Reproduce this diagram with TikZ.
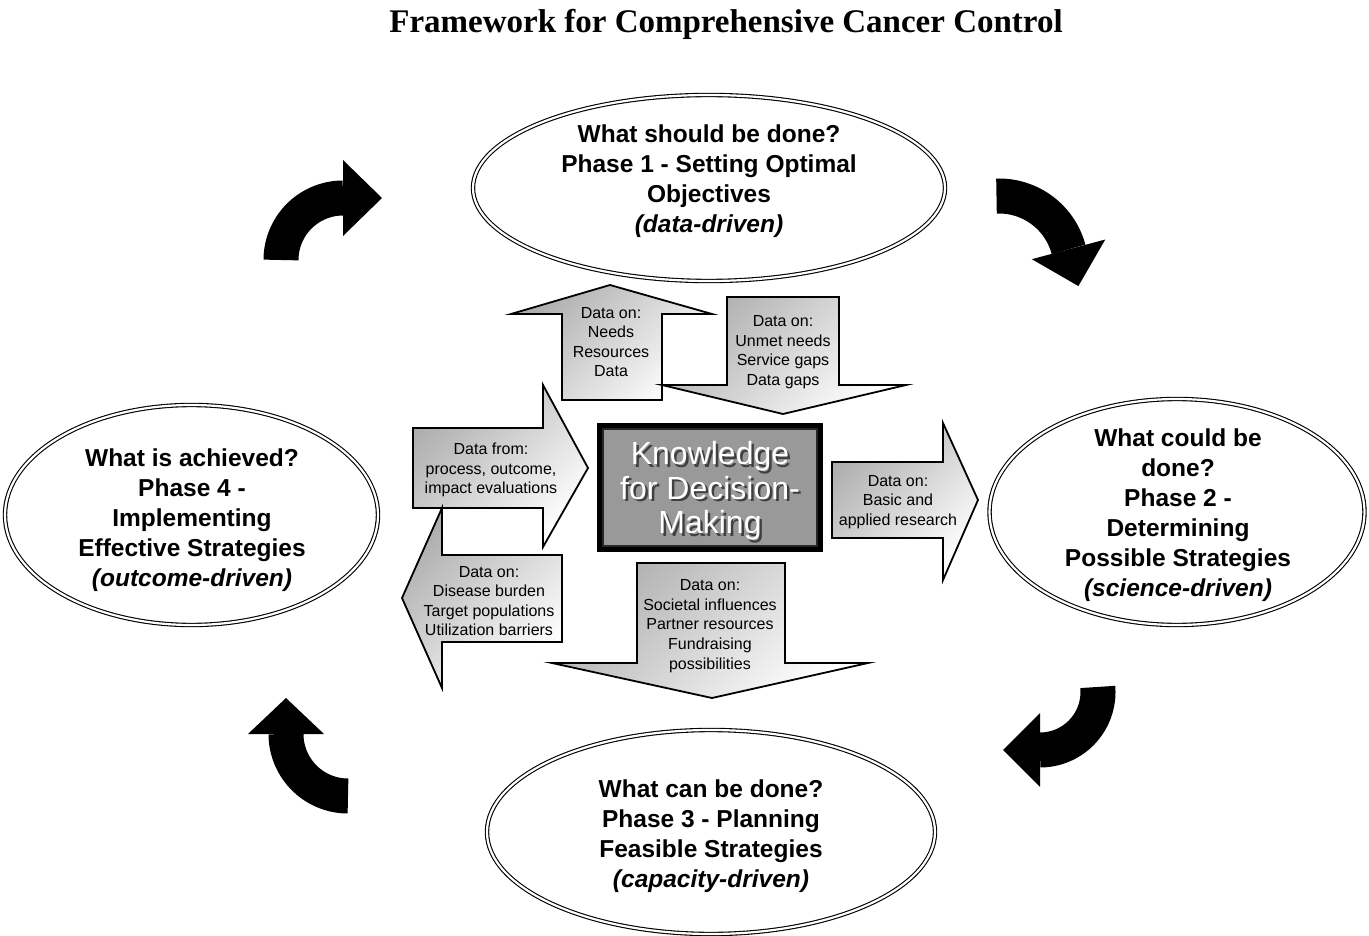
\documentclass[tikz,border=0pt]{standalone}
\usepackage{fontspec}
\setmainfont{Liberation Sans}
\newfontfamily\titlefont{Liberation Serif}
\usetikzlibrary{shapes.geometric}
\newcommand\turnarrow[7]{% cx cy R start end headhalf headlen
  \draw[turnline] plot[domain=#4:#5, samples=40] ({#1+#3*cos(\x)},{#2+#3*sin(\x)});
  \fill[black] ({#1+(#3+#6)*cos(#5)},{#2+(#3+#6)*sin(#5)})
    -- ({#1+(#3-#6)*cos(#5)},{#2+(#3-#6)*sin(#5)})
    -- ({#1+#3*cos(#5)-#7*sin(#5)},{#2+#3*sin(#5)+#7*cos(#5)}) -- cycle;}
\begin{document}
\begin{tikzpicture}[x=1pt,y=-1pt,
  phasebox/.style={ellipse, draw, double, double distance=2.2pt, line width=1.1pt, inner sep=0pt},
  phasetext/.style={align=center, inner sep=0pt, font=\fontsize{24.5}{30}\selectfont\bfseries},
  datatext/.style={align=center, inner sep=0pt, font=\fontsize{16}{19.6}\selectfont},
  kbtext/.style={align=center, inner sep=0pt, font=\fontsize{32}{34.5}\selectfont},
  blockarrow/.style={draw, line width=1.8pt, line join=miter, top color=black!32, bottom color=white, shading angle=45},
  turnline/.style={line width=35pt, black},
  ]
\useasboundingbox (0,0) rectangle (1369,936);
\fill[white] (0,0) rectangle (1369,936);

% title
\node[font={\fontsize{33}{40}\selectfont\titlefont\bfseries}] (title) at (726,24) {Framework for Comprehensive Cancer Control};

% phase ellipses
\node[phasebox, minimum width=472pt, minimum height=186pt] (p1) at (709,188) {};
\node[phasebox, minimum width=375pt, minimum height=226pt] (p2) at (1177,512) {};
\node[phasebox, minimum width=448pt, minimum height=204pt] (p3) at (711,832) {};
\node[phasebox, minimum width=373pt, minimum height=220pt] (p4) at (191.5,515) {};

\node[phasetext] (t1) at (709,181) {What should be done?\\Phase 1 - Setting Optimal\\Objectives\\\textit{(data-driven)}};
\node[phasetext] (t2) at (1178,515) {What could be\\done?\\Phase 2 -\\Determining\\Possible Strategies\\\textit{(science-driven)}};
\node[phasetext] (t3) at (711,836) {What can be done?\\Phase 3 - Planning\\Feasible Strategies\\\textit{(capacity-driven)}};
\node[phasetext] (t4) at (192,520) {What is achieved?\\Phase 4 -\\Implementing\\Effective Strategies\\\textit{(outcome-driven)}};

% curved black arrows
\turnarrow{343}{260}{62}{180}{270}{38}{39}
\turnarrow{999}{268}{72}{268}{345}{38}{38}
\turnarrow{1040}{692}{58}{-5}{90}{37}{37}
\turnarrow{348}{734}{62}{90}{180}{38}{36}

% block arrows
\path[blockarrow] (562,400) -- (562,314) -- (511,314) -- (610,285) -- (712,314) -- (662,314) -- (662,400) -- cycle;
\path[blockarrow] (727,297) -- (839,297) -- (839,385) -- (906,385) -- (783,414) -- (662,385) -- (727,385) -- cycle;
\path[blockarrow] (413,428) -- (543,428) -- (543,385) -- (588,468) -- (543,547) -- (543,508) -- (413,508) -- cycle;
\path[blockarrow] (562,555) -- (562,642) -- (442,642) -- (442,688) -- (402,598) -- (442,508) -- (442,555) -- cycle;
\path[blockarrow] (832,462) -- (943,462) -- (943,423) -- (978,500) -- (943,580) -- (943,538) -- (832,538) -- cycle;
\path[blockarrow] (637,563) -- (785,563) -- (785,663) -- (868,663) -- (712,698) -- (552,663) -- (637,663) -- cycle;

\node[datatext] (d1) at (611,342) {Data on:\\Needs\\Resources\\Data};
\node[datatext] (d2) at (783,352) {Data on:\\Unmet needs\\Service gaps\\Data gaps};
\node[datatext] (d3) at (491,470) {Data from:\\process, outcome,\\impact evaluations};
\node[datatext] (d4) at (489,601) {Data on:\\Disease burden\\Target populations\\Utilization barriers};
\node[datatext] (d5) at (898,502) {Data on:\\Basic and\\applied research};
\node[datatext] (d6) at (710,626) {Data on:\\Societal influences\\Partner resources\\Fundraising\\possibilities};

% central knowledge box
\node[draw, line width=5pt, fill=black!40, minimum width=221pt, minimum height=124pt, inner sep=0pt] (kb) at (710,487.5) {};
\draw[line width=1.5pt, black!85] ([xshift=6pt,yshift=-6pt]kb.north west) rectangle ([xshift=-6pt,yshift=6pt]kb.south east);
\node[kbtext, text=black!75] (kbs) at (712.5,493.5) {Knowledge\\for Decision-\\Making};
\node[kbtext, text=white] (kbt) at (710,491) {Knowledge\\for Decision-\\Making};
\end{tikzpicture}
\end{document}
